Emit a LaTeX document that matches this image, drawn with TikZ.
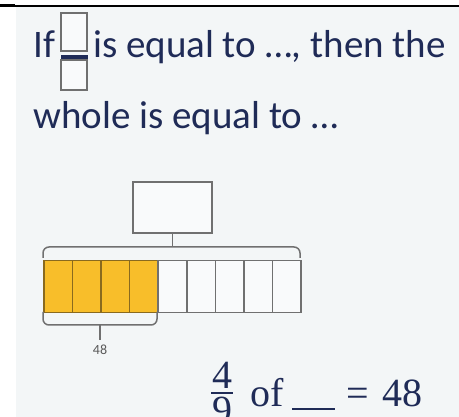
\documentclass[tikz,border=0pt]{standalone}
\usepackage{fontspec}
\setmainfont{Carlito}
\newfontfamily\eqfont{Liberation Serif}
\usetikzlibrary{positioning}
\definecolor{panel}{HTML}{F3F6F7}
\definecolor{ink}{HTML}{1F2B57}
\definecolor{edge}{HTML}{707070}
\definecolor{part}{HTML}{F8BE2A}
\definecolor{partedge}{HTML}{8A6A1E}

\begin{document}
\begin{tikzpicture}[x=1pt,y=-1pt,
 txt/.style={anchor=base west,inner sep=0pt,text=ink,font=\fontsize{39}{43}\selectfont},
 eq/.style={inner sep=0pt,text=ink,font=\eqfont\fontsize{40}{44}\selectfont},
 blank/.style={draw=edge,line width=1.5pt,fill=white!50!panel,inner sep=0pt},
 cell/.style={draw=edge,line width=1.5pt,minimum width=28.6pt,minimum height=52pt,inner sep=0pt,anchor=north west},
 brace/.style={draw=edge,line width=1.5pt,rounded corners=6pt}]
\useasboundingbox (0,0) rectangle (459,417);
% header rule and panel
\fill[panel] (16,7) rectangle (459,417);
\draw[line width=1.5pt] (0,6) -- (459,6);
\fill (0,4.5) rectangle (15,7.5);
% first sentence with the blank fraction
\node[txt] (if) at (33,58) {If};
\node[blank,minimum width=26pt,minimum height=38pt] (numbox) at (74,32) {};
\node[blank,minimum width=26pt,minimum height=30pt] (denbox) at (74,75) {};
\draw[ink,line width=4pt] (61,57) -- (88,57);
\node[txt] (line1) at (93,58) {is equal to …, then the};
\node[txt] (line2) at (33,129) {whole is equal to …};
% whole box above the bar
\node[blank,minimum width=79pt,minimum height=51pt] (whole) at (172.5,207.5) {};
\coordinate (topmid) at (172.5,247);
\draw[brace] (43,258) -- (43,247) -- (300,247) -- (300,258);
\draw[draw=edge,line width=1.5pt] (whole.south) -- (topmid);
% the nine parts
\foreach \i in {0,...,8}{
  \ifnum\i<4
    \node[cell,fill=part,draw=partedge] (c\i) at ({43+28.6*\i},260) {};
  \else
    \node[cell,fill=white!50!panel] (c\i) at ({43+28.6*\i},260) {};
  \fi
}
% brace under the shaded parts
\draw[brace] (43,312) -- (43,325) -- (157,325) -- (157,312);
\coordinate (botmid) at (100,325);
\coordinate (stemend) at (100,340);
\draw[draw=edge,line width=1.5pt] (botmid) -- (stemend);
\node[anchor=north,inner sep=1pt,text=black!65,font=\fontsize{14}{16}\selectfont] (val) at (100,344) {48};
% equation
\node[eq,anchor=base] (num) at (222,389) {4};
\draw[ink,line width=2pt] (211,393) -- (233,393);
\node[eq,anchor=base] (den) at (222,424) {9};
\node[eq,anchor=base west] (of) at (250,407) {of};
\draw[ink,line width=1.5pt] (292,409) -- (335,409);
\node[eq,anchor=base west] (equals) at (346,407) {=};
\node[eq,anchor=base west] (res) at (382,407) {48};
\end{tikzpicture}
\end{document}
